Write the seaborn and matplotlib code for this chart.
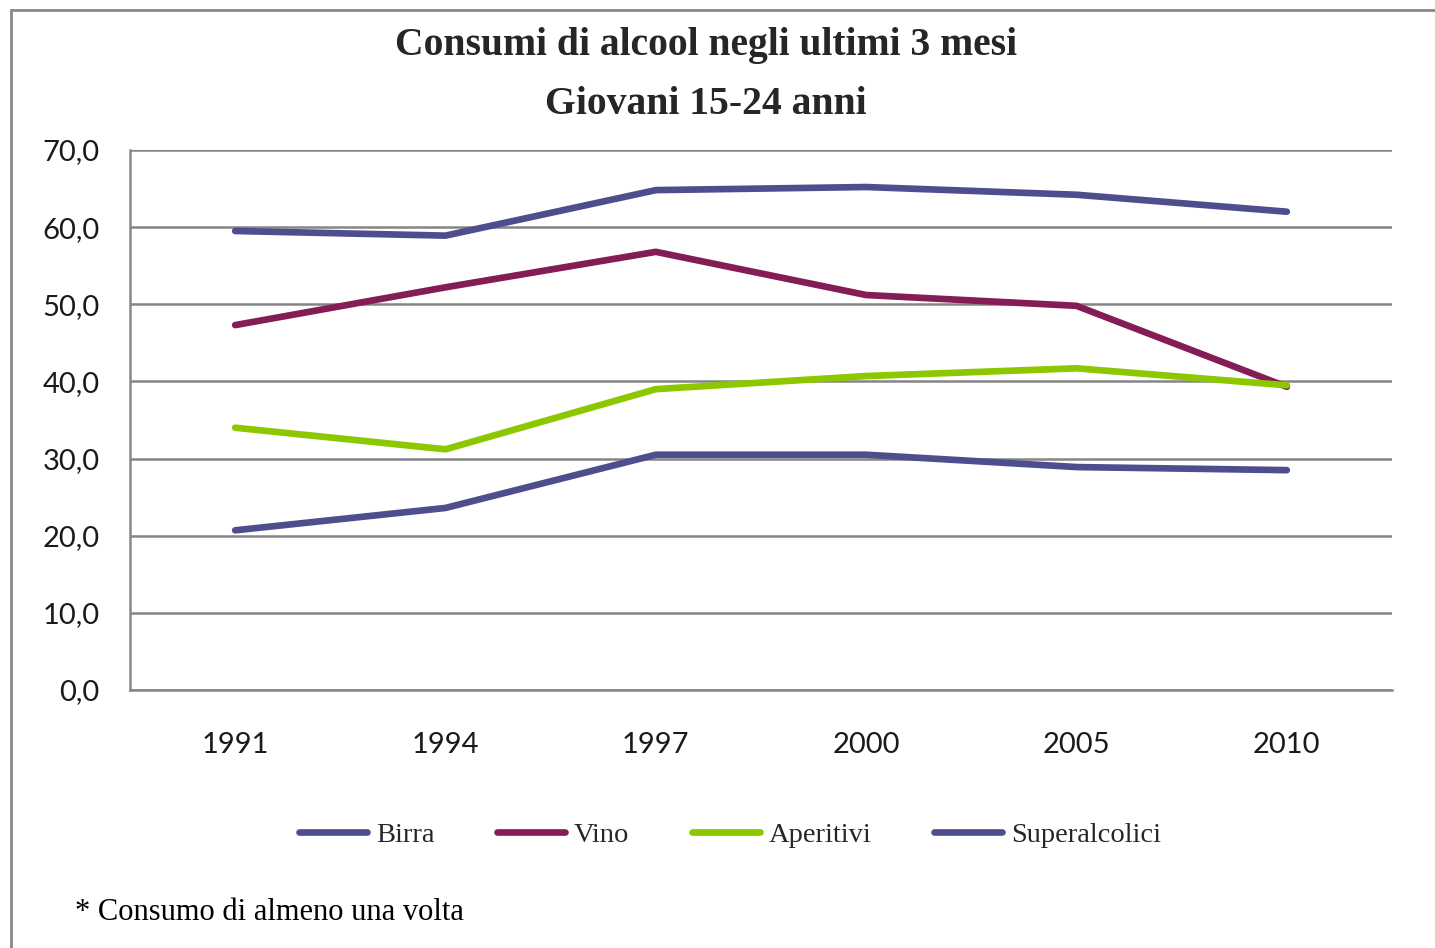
import pandas as pd
import matplotlib
matplotlib.use("Agg")
import matplotlib.pyplot as plt
import seaborn as sns
from matplotlib.lines import Line2D

# values
years = ["1991", "1994", "1997", "2000", "2005", "2010"]
birra = [59.5, 58.9, 64.8, 65.2, 64.2, 62.0]
vino = [47.3, 52.2, 56.8, 51.2, 49.8, 39.3]
aperitivi = [34.0, 31.2, 39.0, 40.7, 41.7, 39.5]
superalcolici = [20.7, 23.6, 30.5, 30.5, 28.9, 28.5]
series_names = ["Birra", "Vino", "Aperitivi", "Superalcolici"]
y_ticks = [0, 10, 20, 30, 40, 50, 60, 70]

colors = {"Birra": "#4E4E8E", "Vino": "#841D55",
          "Aperitivi": "#8CC700", "Superalcolici": "#4E4E8E"}

# long format for seaborn
rows = []
for name, vals in zip(series_names, [birra, vino, aperitivi, superalcolici]):
    for yr, v in zip(years, vals):
        rows.append({"Anno": yr, "Valore": v, "Serie": name})
df = pd.DataFrame(rows)

sns.set_style("white")
W, H = 1435, 948
fig = plt.figure(figsize=(W / 100, H / 100), dpi=100)
ax = fig.add_axes([130 / W, (H - 690) / H, (1392 - 130) / W, (690 - 150) / H])

sns.lineplot(data=df, x="Anno", y="Valore", hue="Serie", hue_order=series_names,
             palette=colors, linewidth=4.8, ax=ax, legend=False, sort=False)

ax.set_xlim(-0.5, len(years) - 0.5)
ax.set_ylim(0, 70)
ax.set_xlabel("")
ax.set_ylabel("")

# y axis
ax.set_yticks(y_ticks)
ax.set_yticklabels([f"{v:.1f}".replace(".", ",") for v in y_ticks],
                   fontfamily="Lato", fontsize=21, color="#1a1a1a")
ax.tick_params(axis="y", length=8, width=1.5, color="#888888", pad=14)
ax.yaxis.grid(True, color="#858585", linewidth=1.8)
ax.set_axisbelow(True)

# x axis: labels at categories, tick marks at the boundaries
ax.set_xticks(range(len(years)))
ax.set_xticklabels(years, fontfamily="Lato", fontsize=21, color="#1a1a1a")
ax.set_xticks([i - 0.5 for i in range(len(years) + 1)], minor=True)
ax.tick_params(axis="x", which="major", length=0, pad=30)
ax.tick_params(axis="x", which="minor", length=8, width=1.5, color="#888888")

for s in ["top", "right"]:
    ax.spines[s].set_visible(False)
for s in ["left", "bottom"]:
    ax.spines[s].set_color("#888888")
    ax.spines[s].set_linewidth(1.8)

# titles
fig.text(706 / W, 1 - 46 / H, "Consumi di alcool negli ultimi 3 mesi", ha="center", va="center",
         fontfamily="Liberation Serif", fontweight="bold", fontsize=28.5)
fig.text(706 / W, 1 - 104 / H, "Giovani 15-24 anni", ha="center", va="center",
         fontfamily="Liberation Serif", fontweight="bold", fontsize=28.5)

# legend
handles = [Line2D([0], [0], color=colors[n], linewidth=4.8) for n in series_names]
fig.legend(handles, series_names, loc="center", bbox_to_anchor=(730 / W, 1 - 835 / H),
           ncol=4, frameon=False, handlelength=2.4, handletextpad=0.3, columnspacing=2.2,
           prop={"family": "Liberation Serif", "size": 20.5})

# footnote
fig.text(75 / W, 1 - 913 / H, "* Consumo di almeno una volta", ha="left", va="center",
         fontfamily="Liberation Serif", fontsize=22, color="#000000")

# outer frame (only left and top edges visible in the crop)
fig.add_artist(Line2D([11 / W, 11 / W], [0, 1 - 10 / H], transform=fig.transFigure,
                      color="#888888", linewidth=2))
fig.add_artist(Line2D([11 / W, 1], [1 - 10 / H, 1 - 10 / H], transform=fig.transFigure,
                      color="#888888", linewidth=2))

fig.savefig("out.png", dpi=100, facecolor="white")
